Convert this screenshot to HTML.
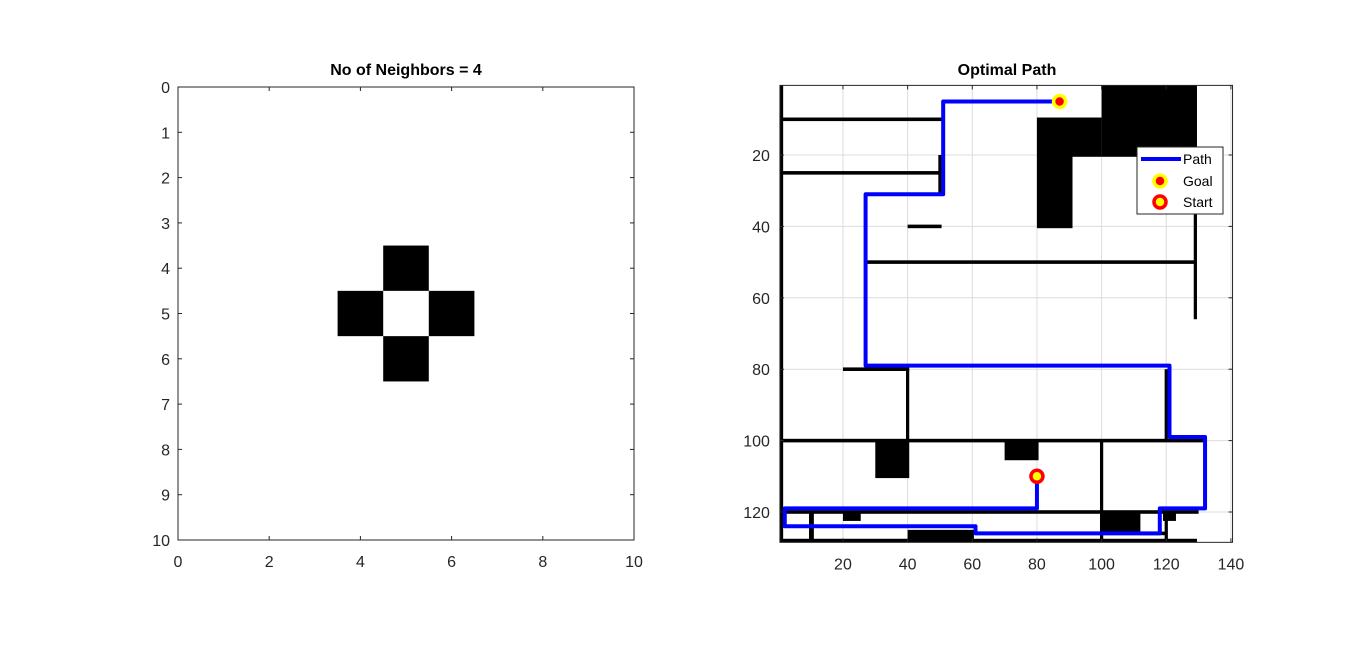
<!DOCTYPE html>
<html><head><meta charset="utf-8"><style>
body{margin:0;background:#fff;width:1366px;height:651px;overflow:hidden}
svg text{font-family:"Liberation Sans",Arial,sans-serif}
</style></head><body>
<svg id="fig" width="1366" height="651">
<rect width="1366" height="651" fill="#fff"/>
<g id="left"></g>
<g id="right"></g>
</svg>
<script>
// Left plot data
const nbCellsX=[5,4,6,5];
const nbCellsY=[4,5,5,6];
const leftTicks=[0,1,2,3,4,5,6,7,8,9,10];
const leftXTicks=[0,2,4,6,8,10];
// Right plot data
const wallX1=[0.5,0.5,49.5,40,80,80,100,27,128.5,128.5,20,39.5,0.5,119.5,30,70,99.5,0.5,9.5,20,40,100,112,119,119.5,0.5,0.5];
const wallX2=[50.5,50,50.5,50.5,100,91,129.5,129,129.5,129.5,40.5,40.5,131.5,120.5,40.5,80.5,100.5,130,11,25.5,60.5,112,120,123,120.5,129.5,1.5];
const wallY1=[9.5,24.5,20,39.5,9.5,20,0.5,49.5,20,20,79.5,80,99.5,80,100,100,100,119.5,120,120,125,120,125.5,120,120,127.5,0.5];
const wallY2=[10.5,25.5,31,40.5,20.5,40.5,20.5,50.5,21,66,80.5,100,100.5,100,110.5,105.5,128.5,120.5,128.5,122.5,128.5,126,126.5,122.5,128.5,128.5,128.5];
const pathX=[87,51,51,27,27,121,121,132,132,118,118,61,61,2,2,80,80];
const pathY=[5,5,31,31,79,79,99,99,119,119,126,126,124,124,119,119,110];
const goal=[87,5], start=[80,110];
const rightXTicks=[20,40,60,80,100,120,140];
const rightYTicks=[20,40,60,80,100,120];

const NS='http://www.w3.org/2000/svg';
function mk(parent,tag,attrs){const e=document.createElementNS(NS,tag);for(const k in attrs)e.setAttribute(k,attrs[k]);parent.appendChild(e);return e;}

// Left axes
const L=document.getElementById('left');
const lx=v=>178+v*45.6, ly=v=>87+v*45.3;
for(let i=0;i<nbCellsX.length;i++){
  const r=mk(L,'rect',{x:lx(nbCellsX[i]-0.5),y:ly(nbCellsY[i]-0.5),width:lx(1)-lx(0),height:ly(1)-ly(0),fill:'#000'});
  
  
}
mk(L,'rect',{x:lx(0),y:ly(0),width:lx(10)-lx(0),height:ly(10)-ly(0),fill:'none',stroke:'#262626','stroke-width':1});
leftTicks.forEach(t=>{
  mk(L,'line',{x1:lx(0),x2:lx(0)+4,y1:ly(t),y2:ly(t),stroke:'#262626'});
  mk(L,'line',{x1:lx(10),x2:lx(10)-4,y1:ly(t),y2:ly(t),stroke:'#262626'});
  const tx=mk(L,'text',{x:lx(0)-8,y:ly(t)+6,'text-anchor':'end','font-size':16,fill:'#262626'});tx.textContent=t;
  
  
});
leftXTicks.forEach(t=>{
  mk(L,'line',{x1:lx(t),x2:lx(t),y1:ly(10),y2:ly(10)-4,stroke:'#262626'});
  mk(L,'line',{x1:lx(t),x2:lx(t),y1:ly(0),y2:ly(0)+4,stroke:'#262626'});
  const tx=mk(L,'text',{x:lx(t),y:ly(10)+27,'text-anchor':'middle','font-size':16,fill:'#262626'});tx.textContent=t;
  
  
});
const lt=mk(L,'text',{x:406,y:75,'text-anchor':'middle','font-size':16,'font-weight':'bold',fill:'#000'});lt.textContent='No of Neighbors = 4';



// Right axes
const R=document.getElementById('right');
const rx=v=>778.3+v*3.233, ry=v=>83.6+v*3.57;
const X0=rx(0.5),X1=rx(140.5),Y0=ry(0.5),Y1=ry(128.5);
rightXTicks.forEach(t=>mk(R,'line',{x1:rx(t),x2:rx(t),y1:Y0,y2:Y1,stroke:'#dcdcdc'}));
rightYTicks.forEach(t=>mk(R,'line',{x1:X0,x2:X1,y1:ry(t),y2:ry(t),stroke:'#dcdcdc'}));
for(let i=0;i<wallX1.length;i++){
  const r=mk(R,'rect',{x:rx(wallX1[i]),y:ry(wallY1[i]),width:rx(wallX2[i])-rx(wallX1[i]),height:ry(wallY2[i])-ry(wallY1[i]),fill:'#000'});
  
  
}
mk(R,'rect',{x:X0,y:Y0,width:X1-X0,height:Y1-Y0,fill:'none',stroke:'#262626'});
rightXTicks.forEach(t=>{
  mk(R,'line',{x1:rx(t),x2:rx(t),y1:Y1,y2:Y1-4,stroke:'#262626'});
  mk(R,'line',{x1:rx(t),x2:rx(t),y1:Y0,y2:Y0+4,stroke:'#262626'});
  const tx=mk(R,'text',{x:rx(t),y:Y1+27,'text-anchor':'middle','font-size':16,fill:'#262626'});tx.textContent=t;
  
  
});
rightYTicks.forEach(t=>{
  mk(R,'line',{x1:X0,x2:X0+4,y1:ry(t),y2:ry(t),stroke:'#262626'});
  mk(R,'line',{x1:X1,x2:X1-4,y1:ry(t),y2:ry(t),stroke:'#262626'});
  const tx=mk(R,'text',{x:X0-10,y:ry(t)+6,'text-anchor':'end','font-size':16,fill:'#262626'});tx.textContent=t;
  
  
});
const pl=mk(R,'polyline',{points:pathX.map((x,i)=>rx(x)+','+ry(pathY[i])).join(' '),fill:'none',stroke:'#0000ff','stroke-width':4,'stroke-linejoin':'round'});


const g=mk(R,'circle',{cx:rx(goal[0]),cy:ry(goal[1]),r:6,fill:'#ff0000',stroke:'#ffff00','stroke-width':3.5});


const s=mk(R,'circle',{cx:rx(start[0]),cy:ry(start[1]),r:6,fill:'#ffff00',stroke:'#ff0000','stroke-width':3.5});


const rt=mk(R,'text',{x:1007,y:75,'text-anchor':'middle','font-size':16,'font-weight':'bold',fill:'#000'});rt.textContent='Optimal Path';



// Legend
const lg=mk(R,'g',{});


mk(lg,'rect',{x:1137,y:147,width:86,height:67,fill:'#fff',stroke:'#262626'});
mk(lg,'line',{x1:1141,x2:1181,y1:159,y2:159,stroke:'#0000ff','stroke-width':4});
mk(lg,'circle',{cx:1160,cy:181,r:6,fill:'#ff0000',stroke:'#ffff00','stroke-width':3.5});
mk(lg,'circle',{cx:1160,cy:202,r:6,fill:'#ffff00',stroke:'#ff0000','stroke-width':3.5});
[['Path',164],['Goal',186],['Start',207]].forEach(([t,y])=>{
  const tx=mk(lg,'text',{x:1183,y:y,'font-size':14,fill:'#000'});tx.textContent=t;
  
  
});
</script>
</body></html>
